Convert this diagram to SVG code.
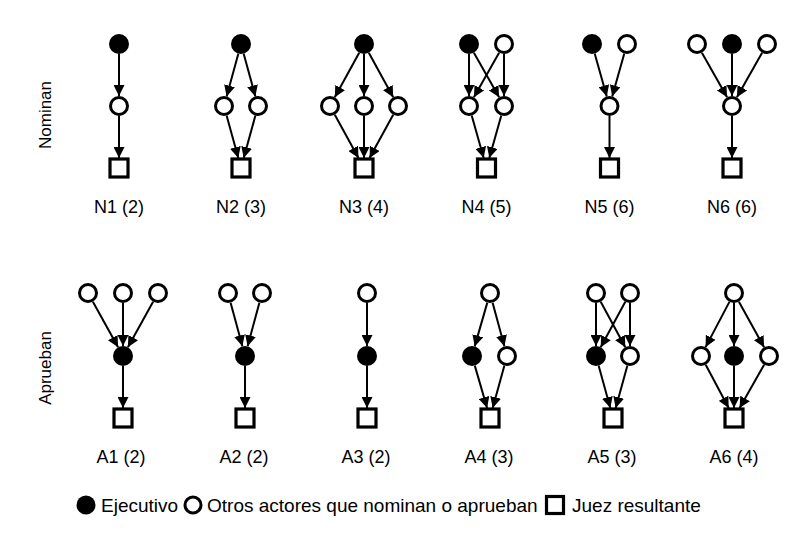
<svg xmlns="http://www.w3.org/2000/svg" width="800" height="556" viewBox="0 0 800 556">
<defs>
<marker id="ah" viewBox="0 0 10 10" refX="10" refY="5" markerWidth="11" markerHeight="11" markerUnits="userSpaceOnUse" orient="auto">
<path d="M0,0 L10,5 L0,10 z" fill="#000"/>
</marker>
</defs>
<style>
.ex{fill:#000;stroke:none}
.ot{fill:#fff;stroke:#000;stroke-width:3}
.jz{fill:#fff;stroke:#000;stroke-width:3.2}
.lb{font-family:"Liberation Sans",Arial,sans-serif;font-size:18px;fill:#000;text-anchor:middle}
.sd{font-family:"Liberation Sans",Arial,sans-serif;font-size:17px;fill:#000;text-anchor:middle}
.lg{font-family:"Liberation Sans",Arial,sans-serif;font-size:19px;fill:#000}
#edges line{stroke:#000;stroke-width:2;marker-end:url(#ah)}
</style>
<rect width="800" height="556" fill="#fff"/>
<text class="sd" transform="translate(51,115) rotate(-90)">Nominan</text>
<text class="sd" transform="translate(51,368) rotate(-90)">Aprueban</text>
<g id="edges">
<line x1="119" y1="54" x2="119" y2="96"/>
<line x1="119" y1="116" x2="119" y2="158"/>
<line x1="238.4" y1="53.6" x2="226.6" y2="96.4"/>
<line x1="243.6" y1="53.6" x2="255.4" y2="96.4"/>
<line x1="226.6" y1="115.6" x2="238.3" y2="158"/>
<line x1="255.4" y1="115.6" x2="243.7" y2="158"/>
<line x1="359.2" y1="52.8" x2="334.8" y2="97.2"/>
<line x1="364" y1="54" x2="364" y2="96"/>
<line x1="368.8" y1="52.8" x2="393.2" y2="97.2"/>
<line x1="334.8" y1="114.8" x2="358.5" y2="158"/>
<line x1="364" y1="116" x2="364" y2="158"/>
<line x1="393.2" y1="114.8" x2="369.5" y2="158"/>
<line x1="469" y1="54" x2="469" y2="96"/>
<line x1="473.9" y1="52.7" x2="499.1" y2="97.3"/>
<line x1="499.1" y1="52.7" x2="473.9" y2="97.3"/>
<line x1="504" y1="54" x2="504" y2="96"/>
<line x1="471.7" y1="115.6" x2="483.7" y2="158"/>
<line x1="501.3" y1="115.6" x2="489.3" y2="158"/>
<line x1="594.7" y1="53.6" x2="606.8" y2="96.4"/>
<line x1="624.3" y1="53.6" x2="612.2" y2="96.4"/>
<line x1="609.5" y1="116" x2="609.5" y2="158"/>
<line x1="701.9" y1="52.7" x2="727.1" y2="97.3"/>
<line x1="732" y1="54" x2="732" y2="96"/>
<line x1="762.1" y1="52.7" x2="736.9" y2="97.3"/>
<line x1="732" y1="116" x2="732" y2="158"/>
<line x1="92.9" y1="301.7" x2="118.1" y2="347.3"/>
<line x1="123" y1="303" x2="123" y2="346"/>
<line x1="153.1" y1="301.7" x2="127.9" y2="347.3"/>
<line x1="123" y1="366" x2="123" y2="408"/>
<line x1="230.6" y1="302.7" x2="242.4" y2="346.3"/>
<line x1="259.4" y1="302.7" x2="247.6" y2="346.3"/>
<line x1="245" y1="366" x2="245" y2="408"/>
<line x1="367" y1="303" x2="367" y2="346"/>
<line x1="367" y1="366" x2="367" y2="408"/>
<line x1="487.3" y1="302.6" x2="474.7" y2="346.4"/>
<line x1="492.6" y1="302.7" x2="504.4" y2="346.3"/>
<line x1="474.8" y1="365.6" x2="487.1" y2="408"/>
<line x1="504.4" y1="365.6" x2="492.7" y2="408"/>
<line x1="596" y1="303" x2="596" y2="346"/>
<line x1="600.7" y1="301.8" x2="625.3" y2="347.2"/>
<line x1="625.3" y1="301.8" x2="600.7" y2="347.2"/>
<line x1="630" y1="303" x2="630" y2="346"/>
<line x1="598.6" y1="365.6" x2="610.3" y2="408"/>
<line x1="627.4" y1="365.6" x2="615.7" y2="408"/>
<line x1="729.4" y1="301.9" x2="705.6" y2="347.1"/>
<line x1="734" y1="303" x2="734" y2="346"/>
<line x1="738.9" y1="301.7" x2="764.1" y2="347.3"/>
<line x1="705.7" y1="364.8" x2="728.7" y2="408"/>
<line x1="734" y1="366" x2="734" y2="408"/>
<line x1="764.1" y1="364.7" x2="739.6" y2="408"/>
</g>
<g id="n1-e"><circle class="ex" cx="119" cy="44" r="10"/></g>
<g id="n1-o"><circle class="ot" cx="119" cy="106" r="8.5"/></g>
<g id="n1-j"><rect class="jz" x="110" y="159" width="18" height="18"/></g>
<g id="n1-label"><text class="lb" x="119" y="213">N1 (2)</text></g>
<g id="n2-e"><circle class="ex" cx="241" cy="44" r="10"/></g>
<g id="n2-o1"><circle class="ot" cx="224" cy="106" r="8.5"/></g>
<g id="n2-o2"><circle class="ot" cx="258" cy="106" r="8.5"/></g>
<g id="n2-j"><rect class="jz" x="232" y="159" width="18" height="18"/></g>
<g id="n2-label"><text class="lb" x="241" y="213">N2 (3)</text></g>
<g id="n3-e"><circle class="ex" cx="364" cy="44" r="10"/></g>
<g id="n3-o1"><circle class="ot" cx="330" cy="106" r="8.5"/></g>
<g id="n3-o2"><circle class="ot" cx="364" cy="106" r="8.5"/></g>
<g id="n3-o3"><circle class="ot" cx="398" cy="106" r="8.5"/></g>
<g id="n3-j"><rect class="jz" x="355" y="159" width="18" height="18"/></g>
<g id="n3-label"><text class="lb" x="364" y="213">N3 (4)</text></g>
<g id="n4-e"><circle class="ex" cx="469" cy="44" r="10"/></g>
<g id="n4-o1"><circle class="ot" cx="504" cy="44" r="8.5"/></g>
<g id="n4-o2"><circle class="ot" cx="469" cy="106" r="8.5"/></g>
<g id="n4-o3"><circle class="ot" cx="504" cy="106" r="8.5"/></g>
<g id="n4-j"><rect class="jz" x="477.5" y="159" width="18" height="18"/></g>
<g id="n4-label"><text class="lb" x="486.5" y="213">N4 (5)</text></g>
<g id="n5-e"><circle class="ex" cx="592" cy="44" r="10"/></g>
<g id="n5-o1"><circle class="ot" cx="627" cy="44" r="8.5"/></g>
<g id="n5-o2"><circle class="ot" cx="609.5" cy="106" r="8.5"/></g>
<g id="n5-j"><rect class="jz" x="600.5" y="159" width="18" height="18"/></g>
<g id="n5-label"><text class="lb" x="609.5" y="213">N5 (6)</text></g>
<g id="n6-o1"><circle class="ot" cx="697" cy="44" r="8.5"/></g>
<g id="n6-e"><circle class="ex" cx="732" cy="44" r="10"/></g>
<g id="n6-o2"><circle class="ot" cx="767" cy="44" r="8.5"/></g>
<g id="n6-o3"><circle class="ot" cx="732" cy="106" r="8.5"/></g>
<g id="n6-j"><rect class="jz" x="723" y="159" width="18" height="18"/></g>
<g id="n6-label"><text class="lb" x="732" y="213">N6 (6)</text></g>
<g id="a1-o1"><circle class="ot" cx="88" cy="293" r="8.5"/></g>
<g id="a1-o2"><circle class="ot" cx="123" cy="293" r="8.5"/></g>
<g id="a1-o3"><circle class="ot" cx="158" cy="293" r="8.5"/></g>
<g id="a1-e"><circle class="ex" cx="123" cy="356" r="10"/></g>
<g id="a1-j"><rect class="jz" x="114" y="409" width="18" height="18"/></g>
<g id="a1-label"><text class="lb" x="121" y="463">A1 (2)</text></g>
<g id="a2-o1"><circle class="ot" cx="228" cy="293" r="8.5"/></g>
<g id="a2-o2"><circle class="ot" cx="262" cy="293" r="8.5"/></g>
<g id="a2-e"><circle class="ex" cx="245" cy="356" r="10"/></g>
<g id="a2-j"><rect class="jz" x="236" y="409" width="18" height="18"/></g>
<g id="a2-label"><text class="lb" x="244" y="463">A2 (2)</text></g>
<g id="a3-o"><circle class="ot" cx="367" cy="293" r="8.5"/></g>
<g id="a3-e"><circle class="ex" cx="367" cy="356" r="10"/></g>
<g id="a3-j"><rect class="jz" x="358" y="409" width="18" height="18"/></g>
<g id="a3-label"><text class="lb" x="366" y="463">A3 (2)</text></g>
<g id="a4-o1"><circle class="ot" cx="490" cy="293" r="8.5"/></g>
<g id="a4-e"><circle class="ex" cx="472" cy="356" r="10"/></g>
<g id="a4-o2"><circle class="ot" cx="507" cy="356" r="8.5"/></g>
<g id="a4-j"><rect class="jz" x="481" y="409" width="18" height="18"/></g>
<g id="a4-label"><text class="lb" x="489" y="463">A4 (3)</text></g>
<g id="a5-o1"><circle class="ot" cx="596" cy="293" r="8.5"/></g>
<g id="a5-o2"><circle class="ot" cx="630" cy="293" r="8.5"/></g>
<g id="a5-e"><circle class="ex" cx="596" cy="356" r="10"/></g>
<g id="a5-o3"><circle class="ot" cx="630" cy="356" r="8.5"/></g>
<g id="a5-j"><rect class="jz" x="604" y="409" width="18" height="18"/></g>
<g id="a5-label"><text class="lb" x="612" y="463">A5 (3)</text></g>
<g id="a6-o1"><circle class="ot" cx="734" cy="293" r="8.5"/></g>
<g id="a6-o2"><circle class="ot" cx="701" cy="356" r="8.5"/></g>
<g id="a6-e"><circle class="ex" cx="734" cy="356" r="10"/></g>
<g id="a6-o3"><circle class="ot" cx="769" cy="356" r="8.5"/></g>
<g id="a6-j"><rect class="jz" x="725" y="409" width="18" height="18"/></g>
<g id="a6-label"><text class="lb" x="734" y="463">A6 (4)</text></g>
<g id="legend">
<circle class="ex" cx="86" cy="505" r="9.5"/>
<text class="lg" x="101" y="512">Ejecutivo</text>
<circle class="ot" cx="193" cy="505" r="8"/>
<text class="lg" x="207" y="512">Otros actores que nominan o aprueban</text>
<rect class="jz" x="546.5" y="496.5" width="17" height="17"/>
<text class="lg" x="572" y="512">Juez resultante</text>
</g>
</svg>
